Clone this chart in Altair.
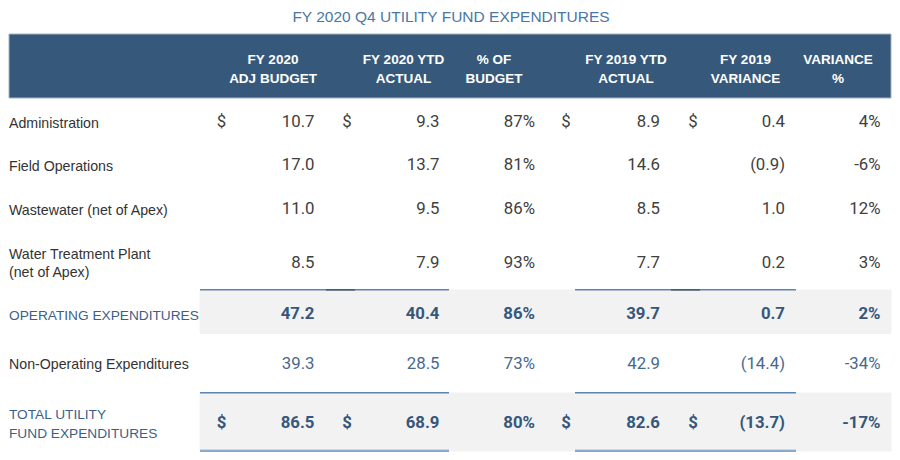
import altair as alt
import pandas as pd

W, H = 884, 444

# ---------------- data ----------------
title = "FY 2020 Q4 UTILITY FUND EXPENDITURES"
headers = ["FY 2020\nADJ BUDGET", "FY 2020 YTD\nACTUAL", "% OF\nBUDGET",
           "FY 2019 YTD\nACTUAL", "FY 2019\nVARIANCE", "VARIANCE\n%"]
row_labels = ["Administration", "Field Operations", "Wastewater (net of Apex)",
              "Water Treatment Plant\n(net of Apex)", "OPERATING EXPENDITURES",
              "Non-Operating Expenditures", "TOTAL UTILITY\nFUND EXPENDITURES"]
row_kind = ["item", "item", "item", "item", "subtotal", "other", "total"]
adj_budget = [10.7, 17.0, 11.0, 8.5, 47.2, 39.3, 86.5]
ytd_2020 = [9.3, 13.7, 9.5, 7.9, 40.4, 28.5, 68.9]
pct_budget = [87, 81, 86, 93, 86, 73, 80]
ytd_2019 = [8.9, 14.6, 8.5, 7.7, 39.7, 42.9, 82.6]
var_2019 = [0.4, -0.9, 1.0, 0.2, 0.7, -14.4, -13.7]
var_pct = [4, -6, 12, 3, 2, -34, -17]
dollar_rows = [0, 6]

# ---------------- layout ----------------
ROW_Y = [114, 157, 201, 254.5, 306, 355.5, 415]
LABEL_X = 1
LABEL_DY = 1.5
LABEL_LH = 18.5
COL_RIGHT = {"adj": 306.5, "ytd20": 431.5, "pct": 527, "ytd19": 652, "var19": 777, "varpct": 872.5}
DOLLAR_X = {"adj": 213.5, "ytd20": 339, "ytd19": 558, "var19": 685}
HEAD_X = [265, 395.5, 486, 618, 737.5, 830]
HEAD_Y0 = 51.5
HEAD_LH = 19
TITLE_X, TITLE_Y = 443, 8.5

COND = "'Liberation Sans', Arial, sans-serif"
NUM = "Roboto, 'Noto Sans', sans-serif"
BLUE = "#3c5f89"
BOLDBLUE = "#35577c"
DARK = "#404040"
NUM_SIZE = 16.8


def money(v):
    return f"({abs(v):.1f})" if v < 0 else f"{v:.1f}"


cols = {"adj": adj_budget, "ytd20": ytd_2020, "ytd19": ytd_2019, "var19": var_2019}
cells = []
for i in range(len(row_labels)):
    for key, arr in cols.items():
        cells.append({"x": COL_RIGHT[key], "y": ROW_Y[i], "t": money(arr[i]), "kind": row_kind[i]})
    cells.append({"x": COL_RIGHT["pct"], "y": ROW_Y[i], "t": f"{pct_budget[i]}%", "kind": row_kind[i]})
    cells.append({"x": COL_RIGHT["varpct"], "y": ROW_Y[i], "t": f"{var_pct[i]}%", "kind": row_kind[i]})
    if i in dollar_rows:
        for key in DOLLAR_X:
            cells.append({"x": DOLLAR_X[key], "y": ROW_Y[i], "t": "$", "kind": row_kind[i] + "_d"})
cells_df = pd.DataFrame(cells)

# first-line position of (possibly multi-line) labels, so the block is centred on the row
label_y = [y + LABEL_DY - (lab.count("\n")) * LABEL_LH / 2 for y, lab in zip(ROW_Y, row_labels)]
labels_df = pd.DataFrame({"x": [LABEL_X] * len(row_labels), "y": label_y,
                          "t": row_labels, "kind": row_kind})
head_df = pd.DataFrame({"x": HEAD_X, "y": [HEAD_Y0] * len(headers), "t": headers})
title_df = pd.DataFrame({"x": [TITLE_X], "y": [TITLE_Y], "t": [title]})

bands_df = pd.DataFrame([
    {"x": 1, "x2": 883, "y": 26, "y2": 90, "c": "#36597b", "s": "#a3b3c3"},
    {"x": 192, "x2": 883, "y": 282, "y2": 325.5, "c": "#f2f2f2", "s": "#f2f2f2"},
    {"x": 192, "x2": 883, "y": 385, "y2": 443, "c": "#f2f2f2", "s": "#f2f2f2"},
])

rules = []
for yy in [281.8, 384.8]:
    rules.append({"x": 192, "x2": 441, "y": yy, "c": "#5b84b0", "w": 1.6})
    rules.append({"x": 567, "x2": 788, "y": yy, "c": "#5b84b0", "w": 1.6})
for yy in [442.3, 443.9]:
    rules.append({"x": 192, "x2": 441, "y": yy, "c": "#6690c0", "w": 1.1})
    rules.append({"x": 567, "x2": 788, "y": yy, "c": "#6690c0", "w": 1.1})
rules.append({"x": 318, "x2": 347, "y": 281.8, "c": "#4e5d6d", "w": 1.6})
rules.append({"x": 663, "x2": 692, "y": 281.8, "c": "#4e5d6d", "w": 1.6})
rules_df = pd.DataFrame(rules)

xs = alt.Scale(domain=[0, W], nice=False, zero=False)
ys = alt.Scale(domain=[0, H], nice=False, zero=False, reverse=True)
X = alt.X("x:Q", scale=xs, axis=None)
Y = alt.Y("y:Q", scale=ys, axis=None)

bands = alt.Chart(bands_df).mark_rect().encode(
    x=X, x2="x2:Q", y=Y, y2="y2:Q",
    fill=alt.Fill("c:N", scale=None), stroke=alt.Stroke("s:N", scale=None))

lines = alt.Chart(rules_df).mark_rule().encode(
    x=X, x2="x2:Q", y=Y,
    color=alt.Color("c:N", scale=None), strokeWidth=alt.StrokeWidth("w:Q", scale=None))

title_t = alt.Chart(title_df).mark_text(
    font=COND, fontSize=15.5, color="#4a77a6", align="center", baseline="middle"
).encode(x=X, y=Y, text="t:N")

head_t = alt.Chart(head_df).mark_text(
    font=COND, fontSize=13.5, fontWeight="bold", color="white", align="center",
    baseline="middle", lineBreak="\n", lineHeight=HEAD_LH
).encode(x=X, y=Y, text="t:N")

lab_plain = alt.Chart(labels_df).transform_filter(
    "datum.kind == 'item' || datum.kind == 'other'").mark_text(
    font=COND, fontSize=14.2, color="#333333", align="left", baseline="middle",
    lineBreak="\n", lineHeight=LABEL_LH
).encode(x=X, y=Y, text="t:N")

lab_blue = alt.Chart(labels_df).transform_filter(
    "datum.kind == 'subtotal' || datum.kind == 'total'").mark_text(
    font=COND, fontSize=13.7, color=BLUE, align="left", baseline="middle",
    lineBreak="\n", lineHeight=LABEL_LH
).encode(x=X, y=Y, text="t:N")

num_plain = alt.Chart(cells_df).transform_filter("datum.kind == 'item'").mark_text(
    font=NUM, fontSize=NUM_SIZE, color=DARK, align="right", baseline="middle"
).encode(x=X, y=Y, text="t:N")

num_other = alt.Chart(cells_df).transform_filter("datum.kind == 'other'").mark_text(
    font=NUM, fontSize=NUM_SIZE, color="#48698f", align="right", baseline="middle"
).encode(x=X, y=Y, text="t:N")

num_bold = alt.Chart(cells_df).transform_filter(
    "datum.kind == 'subtotal' || datum.kind == 'total'").mark_text(
    font=NUM, fontSize=NUM_SIZE, fontWeight="bold", color=BOLDBLUE, align="right", baseline="middle"
).encode(x=X, y=Y, text="t:N")

dol_plain = alt.Chart(cells_df).transform_filter("datum.kind == 'item_d'").mark_text(
    font=NUM, fontSize=NUM_SIZE, color=DARK, align="center", baseline="middle"
).encode(x=X, y=Y, text="t:N")

dol_bold = alt.Chart(cells_df).transform_filter("datum.kind == 'total_d'").mark_text(
    font=NUM, fontSize=NUM_SIZE, fontWeight="bold", color=BOLDBLUE, align="center", baseline="middle"
).encode(x=X, y=Y, text="t:N")

chart = alt.layer(
    bands, lines, title_t, head_t, lab_plain, lab_blue,
    num_plain, num_other, num_bold, dol_plain, dol_bold
).properties(
    width=W, height=H, padding=0, background="white",
    autosize=alt.AutoSizeParams(type="none")
).configure_view(strokeWidth=0, stroke="transparent")

chart.save("out.html", embed_options={"renderer": "svg", "actions": False})
